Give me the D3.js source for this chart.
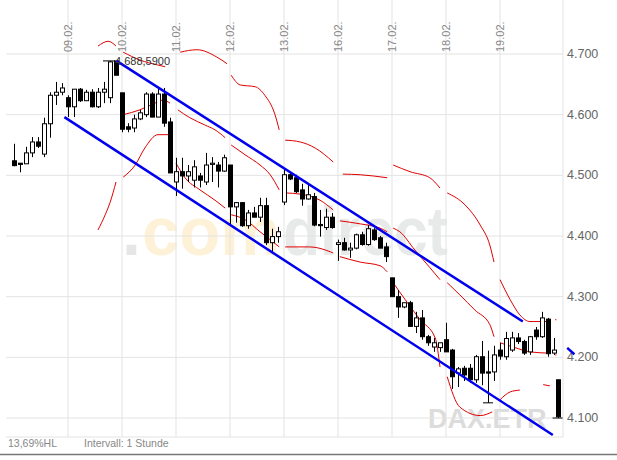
<!DOCTYPE html>
<html><head><meta charset="utf-8">
<script src="https://cdn.jsdelivr.net/npm/d3@7"></script>
<style>body{margin:0;background:#fff}svg{display:block}</style>
</head><body>
<svg id="c" width="617" height="460"></svg>
<script>
// Hourly candles: [open, high, low, close]
const candles = [
[4.524,4.552,4.515,4.516],[4.520,4.520,4.505,4.518],[4.519,4.547,4.519,4.537],[4.537,4.563,4.530,4.555],
[4.555,4.563,4.545,4.548],[4.535,4.595,4.530,4.585],[4.585,4.637,4.562,4.632],[4.632,4.654,4.616,4.637],
[4.637,4.652,4.632,4.644],
[4.628,4.632,4.596,4.613],[4.613,4.642,4.596,4.642],[4.642,4.644,4.621,4.623],[4.623,4.641,4.623,4.637],
[4.637,4.642,4.612,4.613],[4.613,4.644,4.611,4.637],[4.637,4.654,4.619,4.642],[4.628,4.6886,4.619,4.687],
[4.6886,4.6886,4.665,4.665],
[4.636,4.636,4.571,4.576],[4.580,4.586,4.571,4.576],[4.578,4.600,4.571,4.593],[4.593,4.608,4.591,4.603],
[4.600,4.637,4.596,4.634],[4.634,4.637,4.596,4.596],[4.596,4.644,4.596,4.634],[4.634,4.644,4.580,4.586],
[4.588,4.595,4.504,4.504],
[4.489,4.529,4.466,4.506],[4.506,4.529,4.478,4.499],[4.499,4.517,4.489,4.506],[4.492,4.525,4.480,4.514],
[4.499,4.504,4.480,4.492],[4.489,4.537,4.484,4.517],[4.518,4.530,4.489,4.520],[4.517,4.522,4.480,4.507],
[4.507,4.534,4.506,4.529],
[4.517,4.517,4.418,4.448],[4.448,4.456,4.422,4.455],[4.455,4.456,4.415,4.417],[4.417,4.443,4.412,4.438],
[4.438,4.448,4.431,4.431],[4.431,4.463,4.423,4.450],[4.450,4.463,4.385,4.389],[4.389,4.412,4.374,4.399],
[4.399,4.415,4.389,4.407],
[4.456,4.509,4.451,4.501],[4.501,4.504,4.492,4.494],[4.496,4.501,4.471,4.473],[4.476,4.486,4.450,4.461],
[4.461,4.484,4.460,4.468],[4.465,4.471,4.416,4.418],[4.419,4.443,4.399,4.417],[4.414,4.445,4.410,4.431],
[4.431,4.438,4.412,4.414],
[4.386,4.394,4.359,4.389],[4.389,4.397,4.376,4.377],[4.377,4.389,4.364,4.380],[4.380,4.404,4.378,4.402],
[4.402,4.407,4.384,4.386],[4.386,4.418,4.384,4.412],[4.410,4.413,4.392,4.394],[4.397,4.400,4.380,4.380],
[4.382,4.389,4.357,4.366],
[4.331,4.331,4.300,4.300],[4.300,4.311,4.265,4.283],[4.283,4.290,4.281,4.290],[4.290,4.293,4.251,4.251],
[4.251,4.275,4.240,4.265],[4.265,4.278,4.229,4.234],[4.234,4.237,4.219,4.224],[4.217,4.232,4.209,4.224],
[4.216,4.224,4.209,4.224],
[4.229,4.257,4.209,4.209],[4.212,4.214,4.148,4.168],[4.174,4.184,4.151,4.181],[4.182,4.186,4.161,4.171],
[4.182,4.189,4.158,4.163],[4.163,4.204,4.158,4.201],[4.201,4.227,4.154,4.174],[4.176,4.211,4.125,4.174],
[4.176,4.219,4.161,4.204],
[4.212,4.224,4.196,4.202],[4.201,4.242,4.196,4.231],[4.212,4.242,4.209,4.232],[4.232,4.240,4.222,4.226],
[4.226,4.229,4.204,4.207],[4.209,4.235,4.204,4.234],[4.245,4.250,4.229,4.234],[4.234,4.275,4.232,4.265],
[4.263,4.265,4.201,4.206],[4.207,4.232,4.204,4.212],
[4.163,4.163,4.100,4.102]
];
const candleIdx = candles.map((d,i)=> i<91 ? i : 90.6);
const dayLabels = ["09.02.","10.02.","11.02.","12.02.","13.02.","16.02.","17.02.","18.02.","19.02."];
const dayStarts = [9,18,27,36,45,54,63,72,81];
const priceTicks = [4.1,4.2,4.3,4.4,4.5,4.6,4.7];
// Bollinger bands, segments of [candle index, price]
const upperBand = [
 [[14,4.713],[15.7,4.721],[17,4.713]],
 [[18.2,4.703],[21,4.690],[23.9,4.682],[25.2,4.679]],
 [[27.7,4.703],[30.5,4.707],[33.8,4.695],[35.5,4.684]],
 [[36.2,4.665],[37.7,4.649],[40.2,4.646],[41.8,4.632],[43.5,4.600],[44.2,4.575]],
 [[45.2,4.558],[47.7,4.555],[50.2,4.545],[53.2,4.522]],
 [[54.8,4.502],[57.7,4.501],[62.2,4.496]],
 [[63.2,4.517],[66,4.506],[69.3,4.496],[71,4.479]],
 [[72.2,4.471],[75.2,4.451],[77.7,4.418],[79.3,4.385],[80,4.357]],
 [[81,4.328],[82.7,4.295],[84.3,4.270],[86,4.259],[89,4.259]],
 [[90.2,4.262],[90.4,4.262]]
];
const middleBand = [
 [[18.2,4.600],[21,4.608],[23.5,4.619],[24.8,4.624],[26,4.619]],
 [[27.3,4.608],[29.3,4.595],[31.8,4.583],[33.5,4.575],[35.2,4.562]],
 [[36.2,4.550],[38.5,4.534],[41,4.517],[42.7,4.501],[44.2,4.476]],
 [[45.2,4.471],[47.7,4.469],[51,4.459],[53.2,4.443]],
 [[54.3,4.425],[57.7,4.420],[61,4.413],[62.2,4.407]],
 [[63.2,4.413],[64.3,4.407],[66.8,4.377],[69.3,4.348],[71,4.328]],
 [[72.2,4.323],[74.3,4.303],[76.8,4.278],[79.3,4.254],[80,4.234]],
 [[81,4.224],[83.5,4.216],[86,4.209],[89,4.207]],
 [[90.2,4.204],[90.4,4.204]]
];
const lowerBand = [
 [[14,4.410],[15.2,4.435],[16,4.455],[17,4.489]],
 [[18.2,4.497],[20.2,4.517],[21.8,4.545],[24,4.567],[25.7,4.567],[26,4.562]],
 [[27,4.520],[28.5,4.496],[31,4.476],[33.5,4.459],[35.2,4.446]],
 [[36.2,4.435],[38.5,4.427],[41,4.407],[42.7,4.394],[44.2,4.382]],
 [[45.2,4.382],[49.3,4.382],[52.7,4.374],[53.2,4.372]],
 [[54.3,4.366],[57.7,4.357],[61,4.351],[62.2,4.341]],
 [[63.2,4.323],[65.2,4.295],[67.7,4.262],[70.2,4.232],[71,4.184]],
 [[72.2,4.168],[74.3,4.118],[77.7,4.104],[79.7,4.110]],
 [[81,4.130],[82.7,4.143],[84.3,4.146]],
 [[88.2,4.155],[89.3,4.153]]
];
const channelLines = [
 [[17.1,4.6886],[84.8,4.259]],
 [[92.2,4.2156],[93.4,4.205]],
 [[8.4,4.596],[89.8,4.072]]
];
const highLabel = "4.688,5900", highValue = 4.6886, highIdx = 16.5;

const svg = d3.select("#c");
const x = d3.scaleLinear().domain([0,90]).range([14,554]);
const y = d3.scaleLinear().domain([4.1,4.7]).range([418,54]);
const L=6, R=563, T=30, B=437;
const F = "Arial, Liberation Sans";

// watermark
svg.append("text").attr("x",122).attr("y",255).attr("font-family",F).attr("font-size",68).attr("font-weight","bold").attr("fill","#e6e6e6").text(".");
svg.append("text").attr("x",142).attr("y",255).attr("font-family",F).attr("font-size",68).attr("font-weight","bold").attr("fill","#fdf2d8").attr("textLength",138).attr("lengthAdjust","spacingAndGlyphs").text("com");
svg.append("text").attr("x",283).attr("y",255).attr("font-family",F).attr("font-size",68).attr("font-weight","bold").attr("fill","#e8e9e9").attr("textLength",165).attr("lengthAdjust","spacingAndGlyphs").text("direct");
svg.append("text").attr("x",428).attr("y",428).attr("font-family",F).attr("font-size",27).attr("font-weight","bold").attr("fill","#dcdcdc").text("DAX.ETR");

// grid
svg.append("g").selectAll("line").data(priceTicks).join("line")
  .attr("x1",L).attr("x2",R).attr("y1",d=>y(d)).attr("y2",d=>y(d)).attr("stroke","#e3e3e3");
svg.append("g").selectAll("line").data(dayStarts).join("line")
  .attr("x1",d=>x(d)).attr("x2",d=>x(d)).attr("y1",0).attr("y2",B).attr("stroke","#e3e3e3");
svg.append("line").attr("x1",L).attr("x2",R).attr("y1",B).attr("y2",B).attr("stroke","#e3e3e3");
svg.append("line").attr("x1",R).attr("x2",R).attr("y1",0).attr("y2",B).attr("stroke","#e3e3e3");
svg.append("line").attr("x1",0).attr("x2",617).attr("y1",454.5).attr("y2",454.5).attr("stroke","#777").attr("stroke-width",1.5);

// labels
svg.append("g").selectAll("text").data(dayStarts).join("text")
  .attr("transform",(d)=>`translate(${x(d)+4},52) rotate(-90)`)
  .attr("font-family",F).attr("font-size",11).attr("fill","#888")
  .text((d,i)=>dayLabels[i]);
svg.append("g").selectAll("text").data(priceTicks).join("text")
  .attr("x",567).attr("y",d=>y(d)+4).attr("font-family",F).attr("font-size",12.5).attr("fill","#666")
  .text(d=>d3.format(",.3f")(d));
svg.append("text").attr("x",8).attr("y",447).attr("font-family",F).attr("font-size",10.5).attr("fill","#888").text("13,69%HL");
svg.append("text").attr("x",84).attr("y",447).attr("font-family",F).attr("font-size",10.5).attr("fill","#888").text("Intervall: 1 Stunde");

// bands
const line = d3.line().x(d=>x(d[0])).y(d=>y(d[1])).curve(d3.curveMonotoneX);
[upperBand,middleBand,lowerBand].forEach(b=>{
  svg.append("g").selectAll("path").data(b).join("path").attr("d",line)
    .attr("fill","none").attr("stroke","#e00000").attr("stroke-width",1);
});

// candles
const g = svg.append("g");
candles.forEach((c,i)=>{
  const cx = Math.round(x(candleIdx[i]))+0.5;
  const [o,h,l,cl] = c;
  g.append("line").attr("x1",cx).attr("x2",cx).attr("y1",y(h)).attr("y2",y(l)).attr("stroke","#000");
  const top = y(Math.max(o,cl)), bot = y(Math.min(o,cl));
  g.append("rect").attr("x",cx-2).attr("width",4).attr("y",top).attr("height",Math.max(1,bot-top))
    .attr("fill",cl>=o?"#fff":"#000").attr("stroke","#000").attr("stroke-width",1);
});
g.append("line").attr("x1",x(90.6)-5).attr("x2",x(90.6)+5).attr("y1",y(4.100)).attr("y2",y(4.100)).attr("stroke","#000");
g.append("line").attr("x1",x(79)-5).attr("x2",x(79)+5).attr("y1",y(4.125)).attr("y2",y(4.125)).attr("stroke","#000");
g.append("line").attr("x1",x(highIdx)-10).attr("x2",x(highIdx)+2).attr("y1",y(highValue)).attr("y2",y(highValue)).attr("stroke","#000");

// channel
svg.append("g").selectAll("path").data(channelLines).join("path")
  .attr("d",d3.line().x(d=>x(d[0])).y(d=>y(d[1])))
  .attr("stroke","#0000ee").attr("stroke-width",2.5).attr("fill","none");

svg.append("text").attr("x",x(highIdx)+2).attr("y",y(highValue)+4).attr("font-family",F).attr("font-size",11).attr("fill","#333").text(highLabel);
</script>
</body></html>
